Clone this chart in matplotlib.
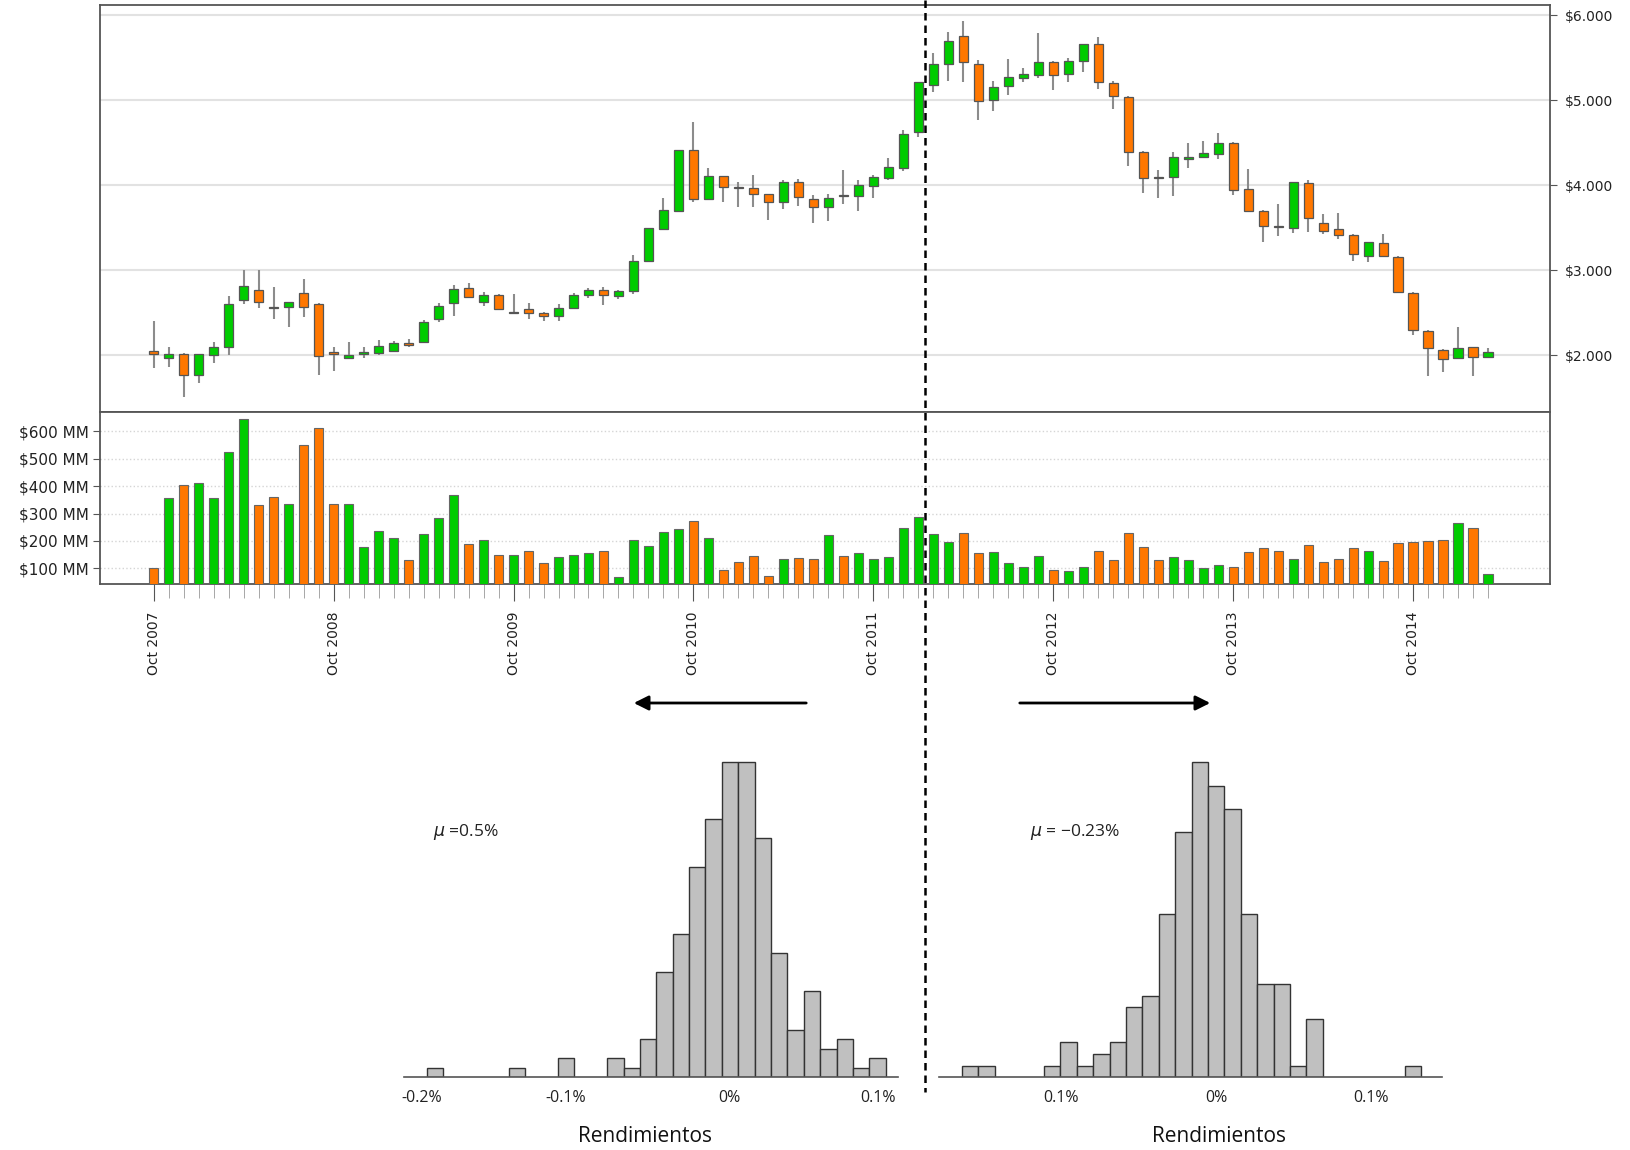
import matplotlib.pyplot as plt
import numpy as np
from matplotlib.lines import Line2D
from matplotlib.patches import FancyArrowPatch

# monthly OHLC, Oct 2007 .. Mar 2015
open_ = [2047, 1969, 2016, 1765, 2000, 2090, 2647, 2765, 2565, 2568,
         2733, 2600, 2039, 1969, 2012, 2020, 2051, 2145, 2157, 2420,
         2616, 2784, 2620, 2706, 2492, 2541, 2490, 2459, 2557, 2702,
         2765, 2698, 2753, 3106, 3486, 3698, 4412, 3839, 4106, 3975,
         3961, 3890, 3804, 4039, 3835, 3737, 3875, 3871, 3992, 4086,
         4204, 4620, 5176, 5424, 5753, 5420, 5000, 5165, 5255, 5290,
         5451, 5306, 5463, 5655, 5204, 5031, 4392, 4098, 4098, 4302,
         4333, 4365, 4498, 3953, 3698, 3515, 3498, 4024, 3557, 3478,
         3412, 3169, 3322, 3157, 2733, 2282, 2059, 1961, 2090, 1980]
high = [2400, 2098, 2025, 2016, 2157, 2694, 3000, 3000, 2804, 2625,
        2898, 2610, 2090, 2157, 2090, 2180, 2160, 2192, 2412, 2608,
        2824, 2843, 2737, 2718, 2718, 2616, 2510, 2600, 2733, 2784,
        2800, 2765, 3177, 3490, 3843, 4412, 4745, 4204, 4110, 4039,
        4118, 3900, 4060, 4070, 3880, 3890, 4176, 4063, 4118, 4314,
        4647, 5216, 5549, 5804, 5933, 5470, 5227, 5482, 5372, 5792,
        5460, 5490, 5660, 5745, 5227, 5050, 4400, 4176, 4392, 4498,
        4522, 4616, 4510, 4186, 3710, 3773, 4031, 4059, 3655, 3675,
        3420, 3333, 3420, 3170, 2745, 2290, 2070, 2333, 2100, 2078]
low = [1851, 1855, 1502, 1674, 1910, 2000, 2596, 2549, 2427, 2333,
       2451, 1765, 1812, 1957, 1969, 2000, 2040, 2090, 2137, 2384,
       2459, 2670, 2577, 2545, 2490, 2420, 2404, 2400, 2537, 2675,
       2585, 2655, 2718, 3098, 3474, 3686, 3804, 3839, 3804, 3737,
       3737, 3588, 3714, 3749, 3557, 3580, 3776, 3698, 3851, 4060,
       4165, 4569, 5098, 5227, 5216, 4765, 4874, 5059, 5208, 5255,
       5118, 5216, 5333, 5125, 4890, 4224, 3910, 3843, 3871, 4204,
       4320, 4302, 3882, 3680, 3333, 3400, 3439, 3451, 3420, 3365,
       3106, 3090, 3165, 2733, 2235, 1753, 1804, 1961, 1753, 1980]
close = [2016, 2016, 1765, 2016, 2090, 2600, 2816, 2620, 2557, 2620,
         2561, 1988, 2012, 2000, 2039, 2106, 2145, 2118, 2392, 2580,
         2773, 2678, 2706, 2545, 2500, 2490, 2459, 2557, 2706, 2761,
         2702, 2753, 3106, 3490, 3706, 4412, 3839, 4106, 3973, 3965,
         3890, 3804, 4039, 3863, 3737, 3851, 3867, 3996, 4098, 4216,
         4600, 5216, 5424, 5698, 5451, 4992, 5149, 5267, 5302, 5451,
         5290, 5463, 5655, 5216, 5051, 4392, 4086, 4082, 4333, 4333,
         4380, 4498, 3941, 3698, 3521, 3505, 4031, 3608, 3463, 3412,
         3184, 3325, 3165, 2745, 2294, 2078, 1953, 2078, 1973, 2031]
volume = [100, 358, 404, 411, 356, 524, 646, 330, 360, 333,
          551, 613, 333, 333, 179, 237, 211, 130, 227, 285,
          366, 189, 204, 149, 149, 163, 121, 143, 149, 156,
          165, 67, 205, 183, 234, 244, 274, 210, 94, 122,
          145, 74, 135, 137, 133, 223, 146, 155, 133, 140,
          246, 289, 226, 196, 230, 155, 160, 121, 105, 145,
          95, 91, 105, 163, 129, 229, 177, 130, 141, 132,
          101, 111, 106, 159, 173, 165, 135, 185, 122, 133,
          176, 165, 126, 191, 195, 200, 205, 266, 249, 80]

year_labels = ['Oct 2007', 'Oct 2008', 'Oct 2009', 'Oct 2010',
               'Oct 2011', 'Oct 2012', 'Oct 2013', 'Oct 2014']
price_ticks = [2000, 3000, 4000, 5000, 6000]
price_labels = ['$2.000', '$3.000', '$4.000', '$5.000', '$6.000']
vol_ticks = [100, 200, 300, 400, 500, 600]
vol_labels = ['$100 MM', '$200 MM', '$300 MM', '$400 MM', '$500 MM', '$600 MM']
split_idx = 51.45  # break between the two periods

# histograms of returns (counts per bin)
left_counts = [1, 0, 0, 0, 0, 1, 0, 0, 2, 0, 0, 2, 1, 4, 11, 15, 22, 27,
               33, 33, 25, 13, 5, 9, 3, 4, 1, 2]
right_counts = [1, 1, 0, 0, 0, 1, 3, 1, 2, 3, 6, 7, 14, 21, 27, 25, 23, 14,
                8, 8, 1, 5, 0, 0, 0, 0, 0, 1]
left_start, left_bw = -0.203, 0.011
right_start, right_bw = -0.1639, 0.01058
left_ticks = [-0.2065, -0.110, 0.0, 0.1]
left_tick_labels = ['-0.2%', '-0.1%', '0%', '0.1%']
right_ticks = [-0.1, 0.0, 0.1]
right_tick_labels = ['0.1%', '0%', '0.1%']

GREEN = '#00cc00'
ORANGE = '#ff7700'

n = len(close)
x = np.arange(n)
up = np.array(close) >= np.array(open_)
colors = np.where(up, GREEN, ORANGE)

fig = plt.figure(figsize=(16.31, 11.5), dpi=100)

# ---- price panel
ax = fig.add_axes([0.0613, 0.6417, 0.8890, 0.3539])
ax.vlines(x, low, high, color='#8c8c8c', lw=1.5, zorder=2)
body_lo = np.minimum(open_, close)
body_h = np.maximum(np.abs(np.array(close) - np.array(open_)), 12)
ax.bar(x, body_h, bottom=body_lo, width=0.66, color=colors,
       edgecolor='#555555', lw=0.9, zorder=3)
ax.set_xlim(-3.57, 93.1)
ax.set_ylim(1329, 6118)
ax.set_yticks(price_ticks)
ax.set_yticklabels(price_labels)
ax.yaxis.tick_right()
ax.tick_params(axis='y', length=5, color='#555555', labelsize=10,
               labelcolor='#222222', pad=6)
ax.set_xticks([])
ax.grid(axis='y', color='#e2e2e2', lw=1.5)
ax.set_axisbelow(True)
for s in ax.spines.values():
    s.set_color('#555555')
    s.set_linewidth(1.3)

# ---- volume panel
axv = fig.add_axes([0.0613, 0.4926, 0.8890, 0.1491])
axv.bar(x, volume, width=0.66, color=colors, edgecolor='#666666', lw=0.8,
        zorder=3)
axv.set_xlim(-3.57, 93.1)
axv.set_ylim(45, 670)
axv.set_yticks(vol_ticks)
axv.set_yticklabels(vol_labels)
axv.tick_params(axis='y', length=5, color='#555555', labelsize=11,
                labelcolor='#222222', pad=3)
axv.grid(axis='y', color='#d5d5d5', lw=1, ls=':')
axv.set_axisbelow(True)
axv.set_xticks(np.arange(0, n, 12))
axv.set_xticklabels(year_labels, rotation=90)
axv.set_xticks(np.arange(n), minor=True)
axv.tick_params(axis='x', which='major', length=12, color='#555555',
                labelsize=10, labelcolor='#222222', pad=8)
axv.tick_params(axis='x', which='minor', length=10, color='#999999')
for s in axv.spines.values():
    s.set_color('#555555')
    s.set_linewidth(1.3)

# ---- histograms
def draw_hist(pos, counts, start, bw, ticks, labels, xlim, ylim):
    h = fig.add_axes(pos)
    counts = np.array(counts)
    edges = start + bw * np.arange(len(counts))
    keep = counts > 0
    h.bar(edges[keep], counts[keep], width=bw, align='edge',
          color='#c0c0c0', edgecolor='#333333', lw=1)
    h.set_xlim(*xlim)
    h.set_ylim(0, ylim)
    for k in ['top', 'right', 'left']:
        h.spines[k].set_visible(False)
    h.spines['bottom'].set_color('#555555')
    h.spines['bottom'].set_linewidth(1.2)
    h.set_yticks([])
    h.set_xticks(ticks)
    h.set_xticklabels(labels, family='Open Sans', fontsize=11.5,
                      color='#222222')
    h.tick_params(axis='x', length=0, pad=9)
    h.patch.set_alpha(0)
    return h

draw_hist([0.2477, 0.0632, 0.3029, 0.2933], left_counts, left_start, left_bw,
          left_ticks, left_tick_labels, (-0.2183, 0.1132), 35.3)
draw_hist([0.5757, 0.0632, 0.3084, 0.2933], right_counts, right_start,
          right_bw, right_ticks, right_tick_labels, (-0.1787, 0.1458), 28.9)

fig.text(645 / 1631, 1 - 1137 / 1150, 'Rendimientos', family='Open Sans',
         fontsize=15, ha='center', va='center', color='#111111')
fig.text(1219 / 1631, 1 - 1137 / 1150, 'Rendimientos', family='Open Sans',
         fontsize=15, ha='center', va='center', color='#111111')
fig.text(433 / 1631, 1 - 832 / 1150, r'$\mu$ =0.5%', family='Open Sans',
         fontsize=12.5, va='center', color='#222222')
fig.text(1030 / 1631, 1 - 832 / 1150, '$\\mu$ = \u22120.23%', family='Open Sans',
         fontsize=12.5, va='center', color='#222222')

# ---- dashed split line and arrows
xd = ax.transData.transform((split_idx, 3000))[0]
xf = fig.transFigure.inverted().transform((xd, 0))[0]
fig.add_artist(Line2D([xf, xf], [1.0, 1 - 1092 / 1150],
                      transform=fig.transFigure, color='black', lw=1.8,
                      ls=(0, (3, 2))))
ya = 1 - 703 / 1150
fig.add_artist(FancyArrowPatch((809 / 1631, ya), (631 / 1631, ya),
                               transform=fig.transFigure, arrowstyle='-|>',
                               mutation_scale=22, lw=2, color='black'))
fig.add_artist(FancyArrowPatch((1017 / 1631, ya), (1213 / 1631, ya),
                               transform=fig.transFigure, arrowstyle='-|>',
                               mutation_scale=22, lw=2, color='black'))

fig.savefig('out.png', dpi=100)
